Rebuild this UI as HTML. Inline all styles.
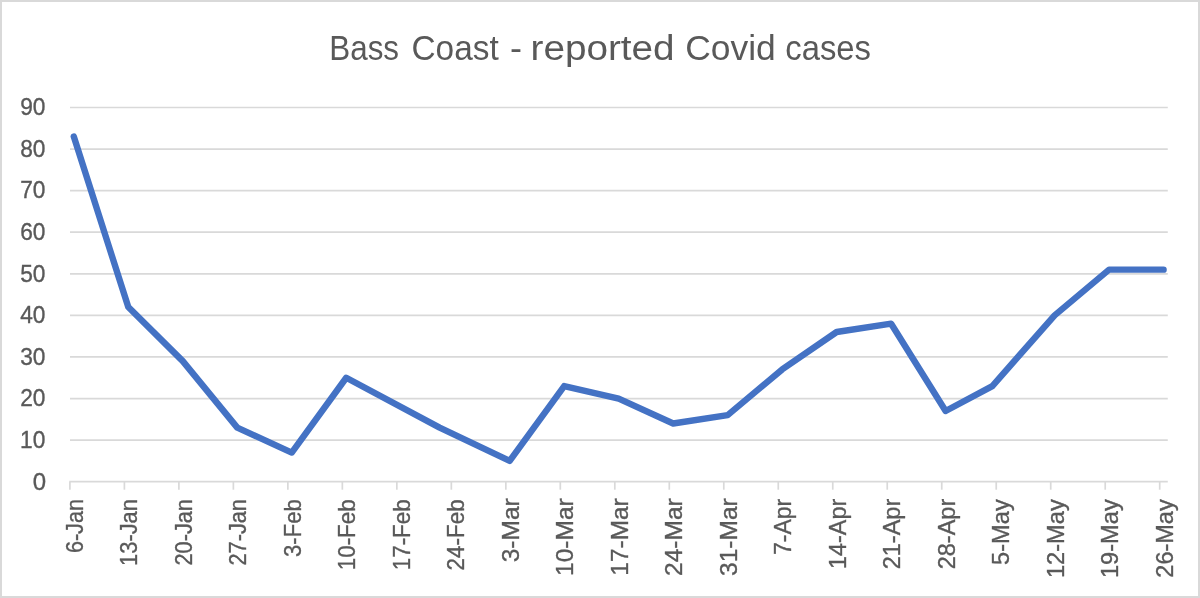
<!DOCTYPE html>
<html><head><meta charset="utf-8"><title>Bass Coast - reported Covid cases</title>
<style>
html,body{margin:0;padding:0;background:#fff;}
body{width:1200px;height:598px;overflow:hidden;}
svg{display:block;font-family:"Liberation Sans",sans-serif;}
.t{fill:#595959;}
.s{stroke:#595959;stroke-width:0.35px;}
</style></head><body>
<svg width="1200" height="598" viewBox="0 0 1200 598">
<rect x="0" y="0" width="1200" height="598" fill="#fff"/>
<rect x="1" y="1" width="1198" height="596" fill="none" stroke="#d9d9d9" stroke-width="2"/>
<g stroke="#d9d9d9" stroke-width="1.7" fill="none">
<line x1="69.30" y1="481.70" x2="1167.78" y2="481.70"/>
<line x1="70.00" y1="440.12" x2="1167.78" y2="440.12"/>
<line x1="70.00" y1="398.54" x2="1167.78" y2="398.54"/>
<line x1="70.00" y1="356.96" x2="1167.78" y2="356.96"/>
<line x1="70.00" y1="315.38" x2="1167.78" y2="315.38"/>
<line x1="70.00" y1="273.80" x2="1167.78" y2="273.80"/>
<line x1="70.00" y1="232.22" x2="1167.78" y2="232.22"/>
<line x1="70.00" y1="190.64" x2="1167.78" y2="190.64"/>
<line x1="70.00" y1="149.06" x2="1167.78" y2="149.06"/>
<line x1="70.00" y1="107.48" x2="1167.78" y2="107.48"/>
<line x1="69.90" y1="481.70" x2="69.90" y2="489.70"/>
<line x1="124.39" y1="481.70" x2="124.39" y2="489.70"/>
<line x1="178.88" y1="481.70" x2="178.88" y2="489.70"/>
<line x1="233.37" y1="481.70" x2="233.37" y2="489.70"/>
<line x1="287.86" y1="481.70" x2="287.86" y2="489.70"/>
<line x1="342.35" y1="481.70" x2="342.35" y2="489.70"/>
<line x1="396.84" y1="481.70" x2="396.84" y2="489.70"/>
<line x1="451.33" y1="481.70" x2="451.33" y2="489.70"/>
<line x1="505.82" y1="481.70" x2="505.82" y2="489.70"/>
<line x1="560.31" y1="481.70" x2="560.31" y2="489.70"/>
<line x1="614.80" y1="481.70" x2="614.80" y2="489.70"/>
<line x1="669.29" y1="481.70" x2="669.29" y2="489.70"/>
<line x1="723.78" y1="481.70" x2="723.78" y2="489.70"/>
<line x1="778.27" y1="481.70" x2="778.27" y2="489.70"/>
<line x1="832.76" y1="481.70" x2="832.76" y2="489.70"/>
<line x1="887.25" y1="481.70" x2="887.25" y2="489.70"/>
<line x1="941.74" y1="481.70" x2="941.74" y2="489.70"/>
<line x1="996.23" y1="481.70" x2="996.23" y2="489.70"/>
<line x1="1050.72" y1="481.70" x2="1050.72" y2="489.70"/>
<line x1="1105.21" y1="481.70" x2="1105.21" y2="489.70"/>
<line x1="1159.70" y1="481.70" x2="1159.70" y2="489.70"/>
</g>
<polyline points="73.79,136.59 128.28,307.06 182.77,361.12 237.26,427.65 291.75,452.59 346.24,377.75 439.65,427.65 509.71,460.91 564.20,386.07 618.69,398.54 673.18,423.49 727.67,415.17 782.16,369.43 836.65,332.01 891.14,323.70 945.63,411.01 992.34,386.07 1054.61,315.38 1109.10,269.64 1163.59,269.64" fill="none" stroke="#4472c4" stroke-width="6.4" stroke-linecap="round" stroke-linejoin="round"/>
<g class="t s" font-size="24" text-anchor="end">
<text x="46.00" y="489.50" textLength="13.34" lengthAdjust="spacingAndGlyphs">0</text>
<text x="45.40" y="447.92" textLength="25.30" lengthAdjust="spacingAndGlyphs">10</text>
<text x="45.40" y="406.34" textLength="25.27" lengthAdjust="spacingAndGlyphs">20</text>
<text x="45.40" y="364.76" textLength="25.27" lengthAdjust="spacingAndGlyphs">30</text>
<text x="45.40" y="323.18" textLength="25.23" lengthAdjust="spacingAndGlyphs">40</text>
<text x="45.40" y="281.60" textLength="25.27" lengthAdjust="spacingAndGlyphs">50</text>
<text x="45.40" y="240.02" textLength="25.27" lengthAdjust="spacingAndGlyphs">60</text>
<text x="45.40" y="198.44" textLength="25.27" lengthAdjust="spacingAndGlyphs">70</text>
<text x="45.40" y="156.86" textLength="25.27" lengthAdjust="spacingAndGlyphs">80</text>
<text x="45.40" y="115.28" textLength="25.27" lengthAdjust="spacingAndGlyphs">90</text>
</g>
<g class="t s" font-size="24" text-anchor="end">
<text transform="translate(82.79,499.10) rotate(-90)" textLength="54.00" lengthAdjust="spacingAndGlyphs">6-Jan</text>
<text transform="translate(137.28,499.10) rotate(-90)" textLength="66.83" lengthAdjust="spacingAndGlyphs">13-Jan</text>
<text transform="translate(191.77,499.10) rotate(-90)" textLength="66.42" lengthAdjust="spacingAndGlyphs">20-Jan</text>
<text transform="translate(246.26,499.10) rotate(-90)" textLength="66.42" lengthAdjust="spacingAndGlyphs">27-Jan</text>
<text transform="translate(300.75,499.30) rotate(-90)" textLength="57.65" lengthAdjust="spacingAndGlyphs">3-Feb</text>
<text transform="translate(355.24,499.30) rotate(-90)" textLength="70.97" lengthAdjust="spacingAndGlyphs">10-Feb</text>
<text transform="translate(409.73,499.30) rotate(-90)" textLength="70.97" lengthAdjust="spacingAndGlyphs">17-Feb</text>
<text transform="translate(464.22,499.30) rotate(-90)" textLength="71.08" lengthAdjust="spacingAndGlyphs">24-Feb</text>
<text transform="translate(518.71,498.30) rotate(-90)" textLength="64.02" lengthAdjust="spacingAndGlyphs">3-Mar</text>
<text transform="translate(573.20,498.30) rotate(-90)" textLength="77.59" lengthAdjust="spacingAndGlyphs">10-Mar</text>
<text transform="translate(627.69,498.30) rotate(-90)" textLength="77.38" lengthAdjust="spacingAndGlyphs">17-Mar</text>
<text transform="translate(682.18,498.30) rotate(-90)" textLength="77.61" lengthAdjust="spacingAndGlyphs">24-Mar</text>
<text transform="translate(736.67,498.30) rotate(-90)" textLength="77.61" lengthAdjust="spacingAndGlyphs">31-Mar</text>
<text transform="translate(791.16,498.70) rotate(-90)" textLength="56.43" lengthAdjust="spacingAndGlyphs">7-Apr</text>
<text transform="translate(845.65,498.70) rotate(-90)" textLength="70.27" lengthAdjust="spacingAndGlyphs">14-Apr</text>
<text transform="translate(900.14,498.70) rotate(-90)" textLength="70.61" lengthAdjust="spacingAndGlyphs">21-Apr</text>
<text transform="translate(954.63,498.70) rotate(-90)" textLength="70.61" lengthAdjust="spacingAndGlyphs">28-Apr</text>
<text transform="translate(1009.12,499.30) rotate(-90)" textLength="65.61" lengthAdjust="spacingAndGlyphs">5-May</text>
<text transform="translate(1063.61,499.30) rotate(-90)" textLength="78.80" lengthAdjust="spacingAndGlyphs">12-May</text>
<text transform="translate(1118.10,499.30) rotate(-90)" textLength="78.80" lengthAdjust="spacingAndGlyphs">19-May</text>
<text transform="translate(1172.59,499.30) rotate(-90)" textLength="78.40" lengthAdjust="spacingAndGlyphs">26-May</text>
</g>
<g class="t" font-size="34.2">
<text x="329.25" y="60" textLength="69.80" lengthAdjust="spacingAndGlyphs">Bass</text>
<text x="411.50" y="60" textLength="87.25" lengthAdjust="spacingAndGlyphs">Coast</text>
<text x="510.00" y="60" textLength="12.00" lengthAdjust="spacingAndGlyphs">-</text>
<text x="530.50" y="60" textLength="144.09" lengthAdjust="spacingAndGlyphs">reported</text>
<text x="685.25" y="60" textLength="90.55" lengthAdjust="spacingAndGlyphs">Covid</text>
<text x="785.25" y="60" textLength="85.75" lengthAdjust="spacingAndGlyphs">cases</text>
</g>
</svg></body></html>
